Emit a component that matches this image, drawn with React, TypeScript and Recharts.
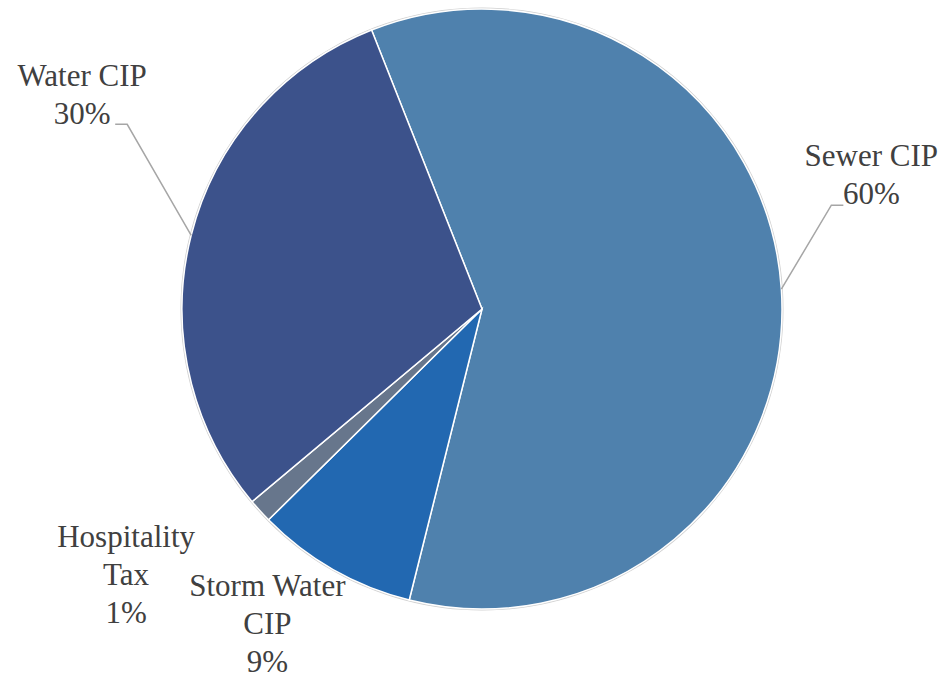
import React from "react";
import { PieChart, Pie, Cell } from "recharts";

const categories = ["Sewer CIP", "Storm Water CIP", "Hospitality Tax", "Water CIP"];
const shares = [59.9, 8.7, 1.3, 30.1];
const labelLines = [["Sewer CIP"], ["Storm Water", "CIP"], ["Hospitality", "Tax"], ["Water CIP"]];
const colors = ["#4F81AD", "#2268B1", "#67768C", "#3C528B"];

const data = categories.map((name, i) => ({ name, value: shares[i] }));
const total = shares.reduce((a, b) => a + b, 0);

// label layout relative to the slice's mid-arc anchor
const layout = [
  { tx: 90, ty: -123, elbow: [50, -84], end: [62, -84] },
  { tx: -66, ty: 26, elbow: null, end: null },
  { tx: -134, ty: 36, elbow: null, end: null },
  { tx: -109, ty: -149, elbow: [-64, -111], end: [-76, -111] },
];

const RAD = Math.PI / 180;
const LINE_H = 38;

const renderLabel = (props: any) => {
  const { cx, cy, midAngle, outerRadius, index, value } = props;
  const ax = cx + outerRadius * Math.cos(-midAngle * RAD);
  const ay = cy + outerRadius * Math.sin(-midAngle * RAD);
  const l = layout[index];
  const lines = [...labelLines[index], `${Math.round((value / total) * 100)}%`];
  return (
    <g key={`lbl-${index}`}>
      {l.elbow && (
        <polyline
          points={`${ax},${ay} ${ax + l.elbow[0]},${ay + l.elbow[1]} ${ax + l.end![0]},${ay + l.end![1]}`}
          fill="none"
          stroke="#A6A6A6"
          strokeWidth={1.5}
        />
      )}
      {lines.map((t, k) => (
        <text
          key={k}
          x={ax + l.tx}
          y={ay + l.ty + k * LINE_H}
          textAnchor="middle"
          fill="#404040"
          fontSize={31}
          fontFamily="'Liberation Serif', 'DejaVu Serif', serif"
        >
          {t}
        </text>
      ))}
    </g>
  );
};

export default function App() {
  return (
    <div style={{ position: "absolute", left: 0, top: 0, width: 945, height: 678, background: "#fff" }}>
      <PieChart width={945} height={678} margin={{ top: 0, right: 0, bottom: 0, left: 0 }}>
        <Pie
          data={[{ name: "edge", value: 1 }]}
          dataKey="value"
          cx={482}
          cy={309}
          outerRadius={301.5}
          fill="#D0D0D0"
          stroke="none"
          isAnimationActive={false}
        />
        <Pie
          data={data}
          dataKey="value"
          cx={482}
          cy={309}
          outerRadius={300}
          startAngle={111.6}
          endAngle={-248.4}
          stroke="#FFFFFF"
          strokeWidth={1.5}
          label={renderLabel}
          labelLine={false}
          isAnimationActive={false}
        >
          {data.map((d, i) => (
            <Cell key={d.name} fill={colors[i]} />
          ))}
        </Pie>
      </PieChart>
    </div>
  );
}
